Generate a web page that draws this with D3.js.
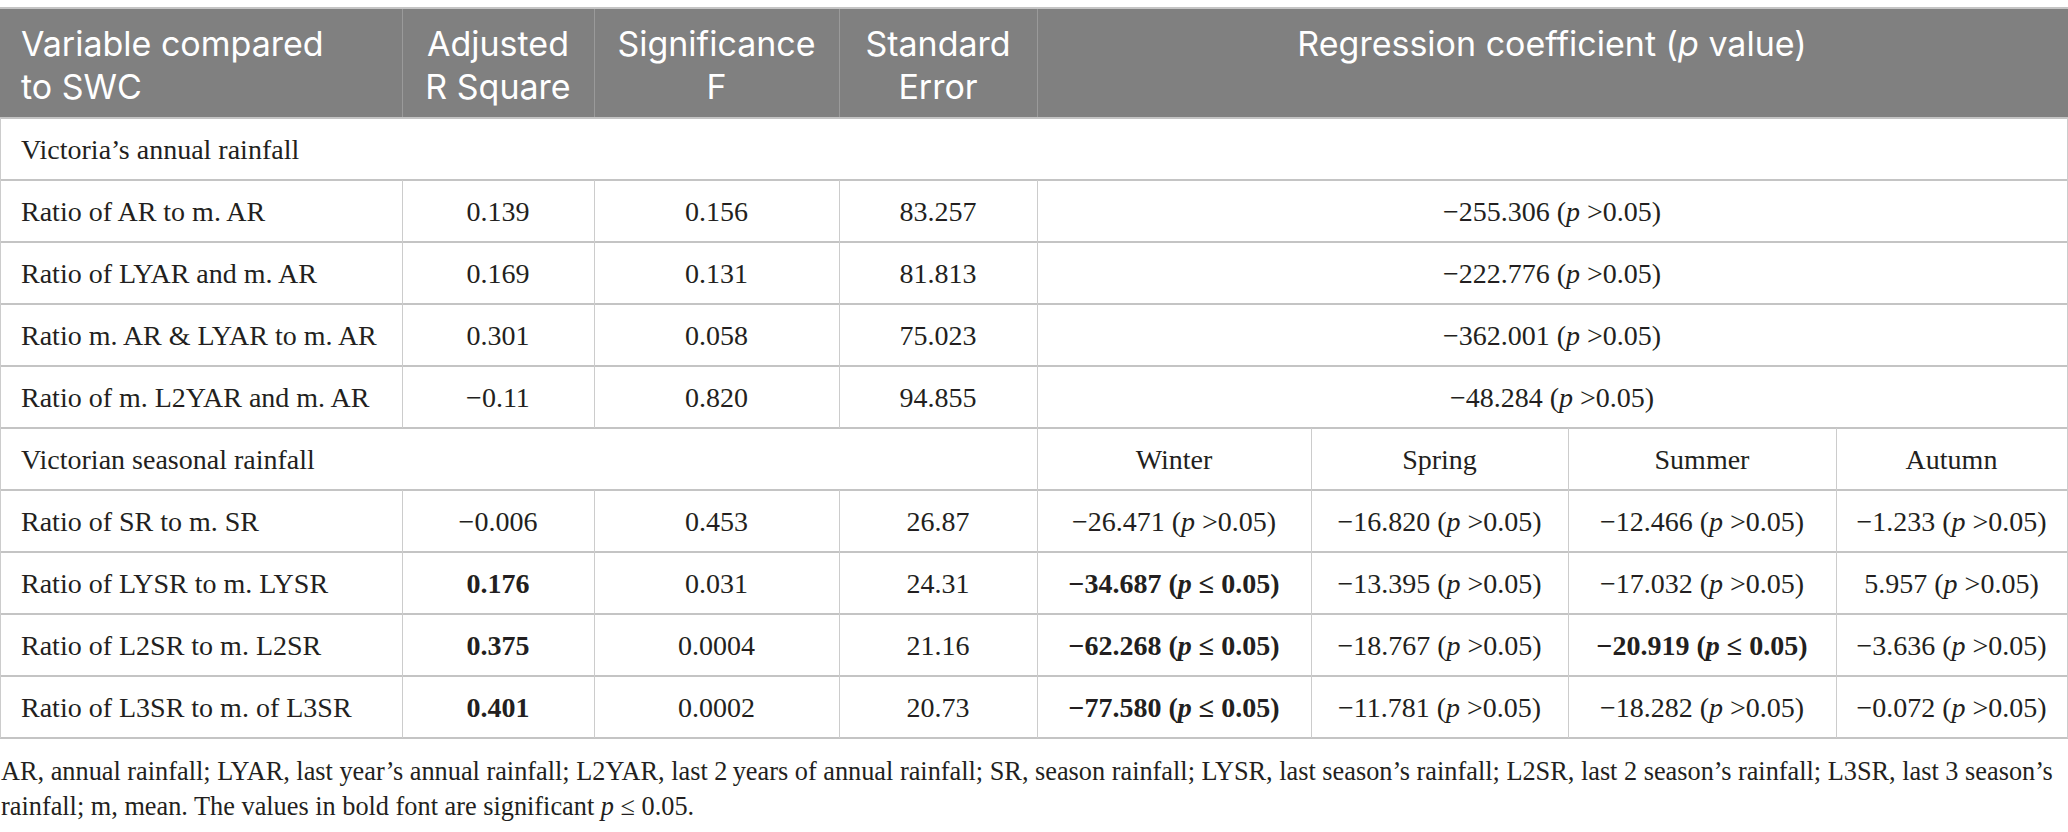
<!DOCTYPE html>
<html>
<head>
<meta charset="utf-8">
<script src="https://cdn.jsdelivr.net/npm/d3@7"></script>
<style>
  body { margin: 0; background: #fff; }
  .hd { font-family: Inter, "Open Sans", sans-serif; fill: #fff; }
  .bd { font-family: "Liberation Serif", serif; fill: #231f20; }
</style>
</head>
<body>
<div id="table"></div>
<script>
// table data
const headerLabels = [["Variable compared", "to SWC"], ["Adjusted", "R Square"], ["Significance", "F"], ["Standard", "Error"]];
const coefHeader = "Regression coefficient";
const sectionLabels = ["Victoria\u2019s annual rainfall", "Victorian seasonal rainfall"];

const annualVars = ["Ratio of AR to m. AR", "Ratio of LYAR and m. AR", "Ratio m. AR & LYAR to m. AR", "Ratio of m. L2YAR and m. AR"];
const annualAdjR2 = ["0.139", "0.169", "0.301", "\u22120.11"];
const annualSigF = ["0.156", "0.131", "0.058", "0.820"];
const annualSE = ["83.257", "81.813", "75.023", "94.855"];
const annualCoef = ["\u2212255.306", "\u2212222.776", "\u2212362.001", "\u221248.284"];

const seasons = ["Winter", "Spring", "Summer", "Autumn"];
const seasonalVars = ["Ratio of SR to m. SR", "Ratio of LYSR to m. LYSR", "Ratio of L2SR to m. L2SR", "Ratio of L3SR to m. of L3SR"];
const seasonalAdjR2 = ["\u22120.006", "0.176", "0.375", "0.401"];
const seasonalSigF = ["0.453", "0.031", "0.0004", "0.0002"];
const seasonalSE = ["26.87", "24.31", "21.16", "20.73"];
const seasonalCoef = [
  ["\u221226.471", "\u221216.820", "\u221212.466", "\u22121.233"],
  ["\u221234.687", "\u221213.395", "\u221217.032", "5.957"],
  ["\u221262.268", "\u221218.767", "\u221220.919", "\u22123.636"],
  ["\u221277.580", "\u221211.781", "\u221218.282", "\u22120.072"]
];
const seasonalCoefSig = [
  [false, false, false, false],
  [true, false, false, false],
  [true, false, true, false],
  [true, false, false, false]
];

const footnote = [
  "AR, annual rainfall; LYAR, last year\u2019s annual rainfall; L2YAR, last 2\u2009years of annual rainfall; SR, season rainfall; LYSR, last season\u2019s rainfall; L2SR, last 2 season\u2019s rainfall; L3SR, last 3 season\u2019s",
  "rainfall; m, mean. The values in bold font are significant "
];

const width = 2068, height = 832;
const svg = d3.select("#table").append("svg")
    .attr("width", width)
    .attr("height", height);

// column edges (layout)
const colKeys = ["var", "r2", "sigf", "se", "c0", "c1", "c2", "c3", "end"];
const x = d3.scaleOrdinal().domain(colKeys).range([0, 402, 594, 839, 1037, 1311, 1568, 1836, 2067]);
const mid = (a, b) => (x(a) + x(b)) / 2;

const headTop = 8, headBottom = 118;
const rowIds = d3.range(10);
const y = d3.scaleBand().domain(rowIds).range([headBottom, 738]);

const bodySize = 28;
const headSize = 34;

// header background
svg.append("rect")
    .attr("x", 0).attr("y", headTop)
    .attr("width", width).attr("height", headBottom - headTop)
    .attr("fill", "#808080");

// header vertical lines
svg.selectAll(".hv")
    .data(["r2", "sigf", "se", "c0"])
    .enter().append("line")
    .attr("x1", d => x(d) + 0.5).attr("x2", d => x(d) + 0.5)
    .attr("y1", headTop).attr("y2", headBottom)
    .attr("stroke", "#9a9a9a").attr("stroke-width", 1);

// header text, one text per line
const headCols = [["var", "r2"], ["r2", "sigf"], ["sigf", "se"], ["se", "c0"]];
headerLabels.forEach((lines, i) => {
    lines.forEach((s, j) => {
        svg.append("text").attr("class", "hd")
            .attr("font-size", headSize)
            .attr("text-anchor", i === 0 ? "start" : "middle")
            .attr("x", i === 0 ? 21 : mid(headCols[i][0], headCols[i][1]))
            .attr("y", 56 + j * 43)
            .text(s);
    });
});
const rc = svg.append("text").attr("class", "hd")
    .attr("font-size", headSize).attr("text-anchor", "middle")
    .attr("x", mid("c0", "end")).attr("y", 56);
rc.append("tspan").text(coefHeader + " (");
rc.append("tspan").attr("font-style", "italic").text("p");
rc.append("tspan").text(" value)");

// horizontal lines
const hLines = [headTop, headBottom].concat(rowIds.map(r => y(r) + y.bandwidth()));
svg.selectAll(".hl")
    .data(hLines)
    .enter().append("line")
    .attr("x1", 0).attr("x2", width)
    .attr("y1", d => d).attr("y2", d => d)
    .attr("stroke", "#c4c4c4").attr("stroke-width", 2);

// vertical lines in body, by row type
function vlines(row, keys) {
    svg.selectAll(null)
        .data(keys)
        .enter().append("line")
        .attr("x1", d => x(d) + 0.5).attr("x2", d => x(d) + 0.5)
        .attr("y1", y(row)).attr("y2", y(row) + y.bandwidth())
        .attr("stroke", "#cccccc").attr("stroke-width", 1);
}
rowIds.forEach(r => {
    if (r === 0) vlines(r, ["var", "end"]);
    else if (r <= 4) vlines(r, ["var", "r2", "sigf", "se", "c0", "end"]);
    else if (r === 5) vlines(r, ["var", "c0", "c1", "c2", "c3", "end"]);
    else vlines(r, colKeys);
});

function cellText(row, xpos, anchor, bold) {
    return svg.append("text").attr("class", "bd")
        .attr("font-size", bodySize)
        .attr("font-weight", bold ? "bold" : "normal")
        .attr("text-anchor", anchor)
        .attr("x", xpos)
        .attr("y", y(row) + y.bandwidth() / 2 + 9.5);
}

function coefText(row, xpos, value, sig) {
    const t = cellText(row, xpos, "middle", sig);
    t.append("tspan").text(value + " (");
    t.append("tspan").attr("font-style", "italic").text("p");
    t.append("tspan").text(sig ? " \u2264 0.05)" : " >0.05)");
}

// section rows
cellText(0, 21, "start", false).text(sectionLabels[0]);
cellText(5, 21, "start", false).text(sectionLabels[1]);
seasons.forEach((s, i) => {
    cellText(5, mid("c" + i, i < 3 ? "c" + (i + 1) : "end"), "middle", false).text(s);
});

// annual rows
annualVars.forEach((v, i) => {
    const r = i + 1;
    cellText(r, 21, "start", false).text(v);
    cellText(r, mid("r2", "sigf"), "middle", +annualSigF[i] < 0.05).text(annualAdjR2[i]);
    cellText(r, mid("sigf", "se"), "middle", false).text(annualSigF[i]);
    cellText(r, mid("se", "c0"), "middle", false).text(annualSE[i]);
    coefText(r, mid("c0", "end"), annualCoef[i], false);
});

// seasonal rows
seasonalVars.forEach((v, i) => {
    const r = i + 6;
    cellText(r, 21, "start", false).text(v);
    cellText(r, mid("r2", "sigf"), "middle", +seasonalSigF[i] < 0.05).text(seasonalAdjR2[i]);
    cellText(r, mid("sigf", "se"), "middle", false).text(seasonalSigF[i]);
    cellText(r, mid("se", "c0"), "middle", false).text(seasonalSE[i]);
    seasonalCoef[i].forEach((c, j) => {
        coefText(r, mid("c" + j, j < 3 ? "c" + (j + 1) : "end"), c, seasonalCoefSig[i][j]);
    });
});

// footnote
const fn = svg.append("g").attr("class", "bd").attr("font-size", 26.3);
fn.append("text").attr("x", 1).attr("y", 780).text(footnote[0]);
const f2 = fn.append("text").attr("x", 1).attr("y", 815);
f2.append("tspan").text(footnote[1]);
f2.append("tspan").attr("font-style", "italic").text("p");
f2.append("tspan").text(" \u2264 0.05.");
</script>
</body>
</html>
